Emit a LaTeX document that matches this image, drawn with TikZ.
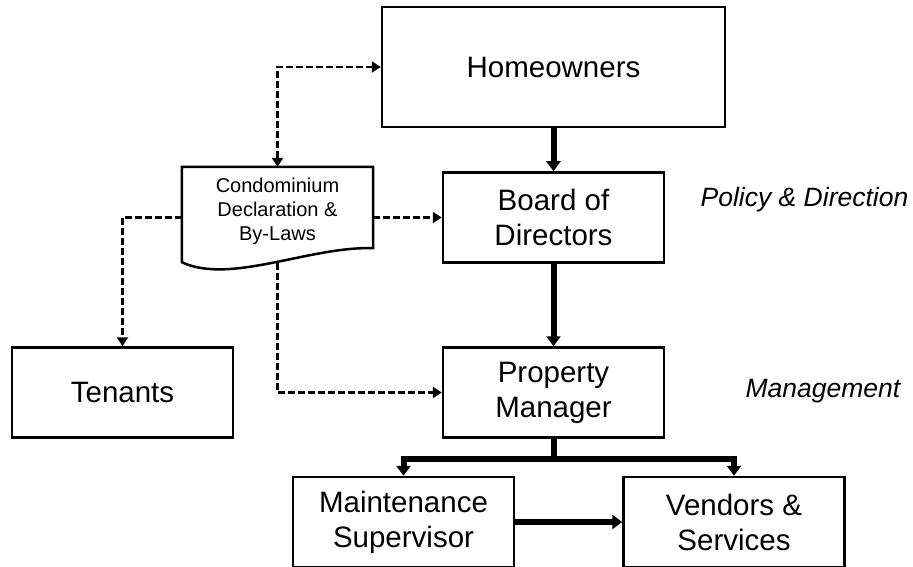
\documentclass[tikz,border=0pt]{standalone}
\usepackage{fontspec}
\setmainfont{Liberation Sans}
\usetikzlibrary{arrows.meta}

\begin{document}
\begin{tikzpicture}[
    x=1pt, y=-1pt,
    unit/.style={
        draw,
        rectangle,
        line width=2.5pt,
        minimum width=221pt,
        minimum height=90pt,
        align=center,
        font=\fontsize{29.5}{35}\selectfont,
      },
    declnote/.style={
        inner sep=0pt,
        minimum width=191pt,
        minimum height=88pt,
        align=center,
        font=\fontsize{20}{24}\selectfont,
      },
    rank/.style={font=\fontsize{26.5}{32}\selectfont\itshape},
    link/.style={line width=6pt, -{Triangle[width=14pt,length=10pt]}},
    ref/.style={line width=2.5pt, dash pattern=on 7pt off 3pt, -{Triangle[width=11pt,length=9pt]}},
    refboth/.style={ref, {Triangle[width=11pt,length=9pt]}-{Triangle[width=11pt,length=9pt]}}
  ]
  \useasboundingbox (0,0) rectangle (913,567);

  \node[unit,minimum width=343pt,minimum height=120pt] (home) at (553.5,67) {Homeowners};
  \node[unit] (board) at (553.5,217.5) {Board of\\Directors};
  \node[unit] (pm) at (553.5,392.5) {Property\\Manager};
  \node[unit] (tenants) at (122.5,392.5) {Tenants};
  \node[unit] (maint) at (403.5,522) {Maintenance\\Supervisor};
  \node[unit] (vend) at (734,522) {Vendors \&\\Services};
  \node[declnote] (decl) at (277.5,211) {Condominium\\Declaration \&\\By-Laws};
  \node[rank] (policy) at (804.5,200) {Policy \& Direction};
  \node[rank] (mgmt) at (823,391) {Management};

  % document outline with wavy foot
  \draw[line width=2.5pt] (decl.north west) -- (decl.north east) -- ([yshift=7pt]decl.south east)
    .. controls (310,246) and (230,285) .. ([yshift=-7pt]decl.south west) -- cycle;

  \draw[link] (home) -- (board);
  \draw[link] (board) -- (pm);
  \draw[link] (pm.south) -- ++(0,20) -| (maint.north);
  \draw[link] (pm.south) -- ++(0,20) -| (vend.north);
  \draw[link] (maint) -- (vend);

  \draw[refboth] (decl.north) |- (home.west);
  \draw[ref] (decl.east |- board.west) -- (board.west);
  \draw[ref] (decl.west |- board.west) -| (tenants.north);
  \draw[ref] ([yshift=-8pt]decl.south) |- (pm.west);
\end{tikzpicture}
\end{document}
